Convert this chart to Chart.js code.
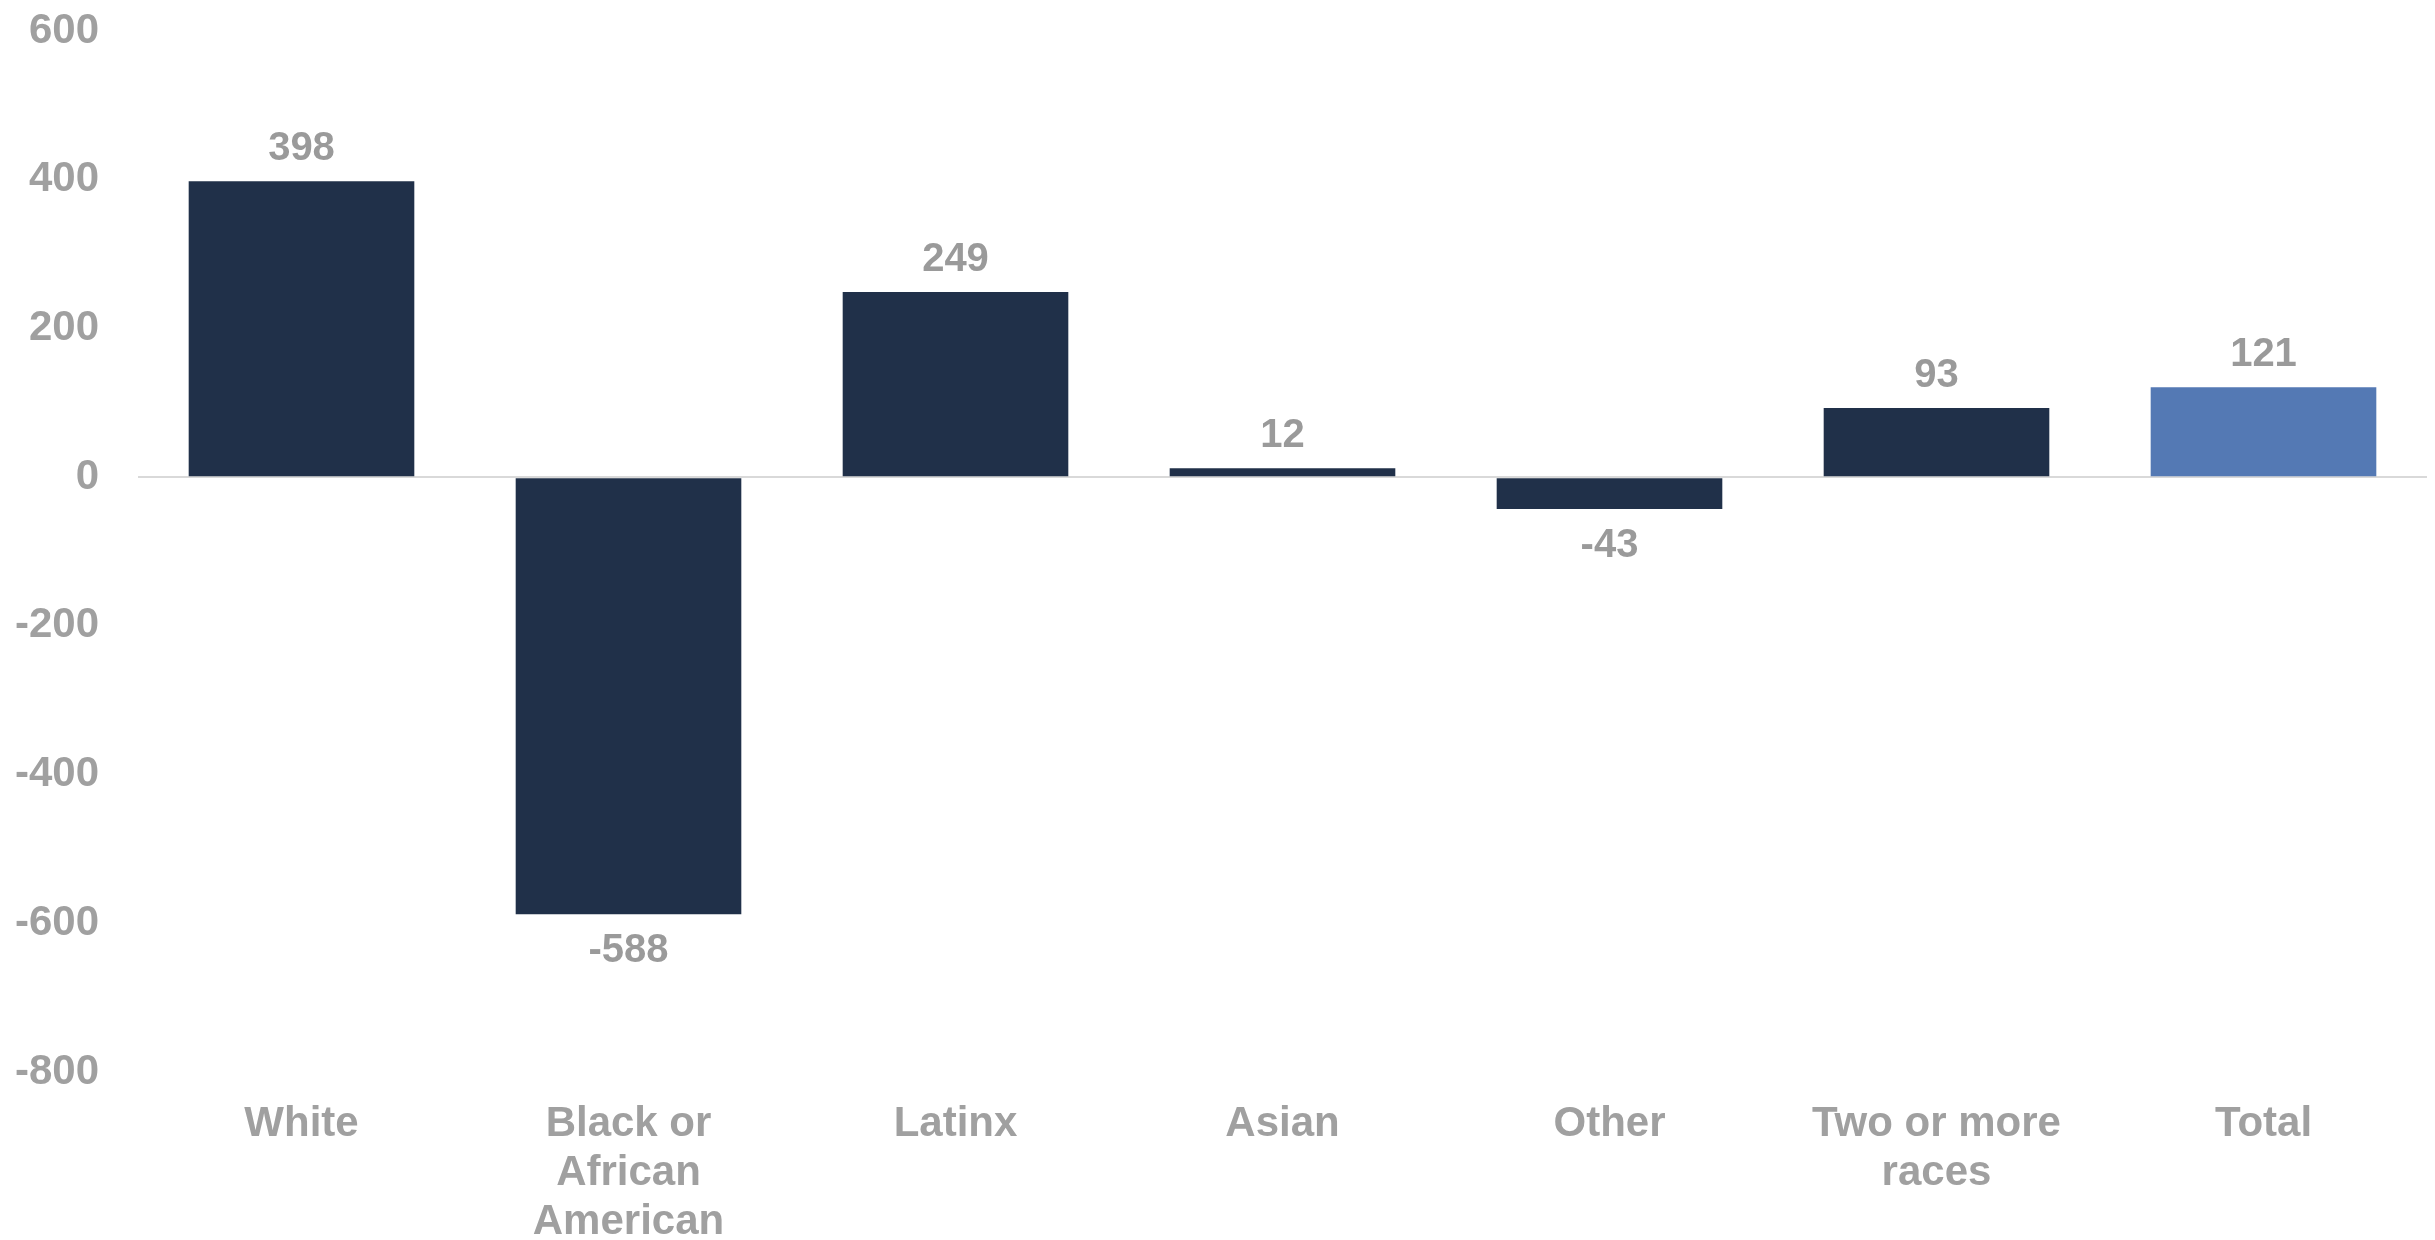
<!DOCTYPE html>
<html>
<head>
<meta charset="utf-8">
<script src="https://cdn.jsdelivr.net/npm/chart.js@4/dist/chart.umd.min.js"></script>
<style>
  html, body { margin: 0; padding: 0; background: #fff; overflow: hidden; }
  #wrap { width: 2435px; height: 1240px; position: relative; }
</style>
</head>
<body>
<div id="wrap"><canvas id="myChart"></canvas></div>
<script>
// chart data
var categories = ['White', ['Black or', 'African', 'American'], 'Latinx', 'Asian', 'Other', ['Two or more', 'races'], 'Total'];
var changeValues = [398, -588, 249, 12, -43, 93, 121];
var barColors = ['#203049', '#203049', '#203049', '#203049', '#203049', '#203049', '#5479b4'];
var yTicks = [-800, -600, -400, -200, 0, 200, 400, 600];

// simple value labels above / below each bar
var valueLabels = {
    id: 'valueLabels',
    afterDatasetsDraw: function (chart) {
        var ctx = chart.ctx;
        var meta = chart.getDatasetMeta(0);
        ctx.save();
        ctx.font = 'bold 40px "Liberation Sans", Arial, sans-serif';
        ctx.fillStyle = '#9a9a9a';
        ctx.textAlign = 'center';
        ctx.textBaseline = 'middle';
        meta.data.forEach(function (bar, i) {
            var v = changeValues[i];
            var y = v >= 0 ? bar.y - 32 : bar.y + 37;
            ctx.fillText(String(v), bar.x, y);
        });
        ctx.restore();
    }
};

var ctx = document.getElementById('myChart').getContext('2d');
var myChart = new Chart(ctx, {
    type: 'bar',
    data: {
        labels: categories,
        datasets: [{
            data: changeValues,
            backgroundColor: barColors,
            borderWidth: 0,
            barPercentage: 0.69,
            categoryPercentage: 1
        }]
    },
    options: {
        responsive: true,
        maintainAspectRatio: false,
        animation: false,
        layout: { padding: { left: 15, right: 8, top: 31, bottom: 0 } },
        plugins: {
            legend: { display: false },
            tooltip: { enabled: false }
        },
        scales: {
            x: {
                afterFit: function (axis) {
                    axis.height = 168;
                    axis.paddingLeft = 0;
                    axis.paddingRight = 0;
                },
                grid: { display: false, drawTicks: false },
                border: { display: false },
                ticks: {
                    color: '#a0a0a0',
                    padding: 28,
                    maxRotation: 0,
                    autoSkip: false,
                    font: { family: '"Liberation Sans", Arial, sans-serif', size: 42, weight: 'bold', lineHeight: 1.17 }
                }
            },
            y: {
                min: yTicks[0],
                max: yTicks[yTicks.length - 1],
                afterBuildTicks: function (axis) {
                    axis.ticks = yTicks.map(function (v) { return { value: v }; });
                },
                afterFit: function (axis) {
                    axis.width = 123;
                    axis.paddingTop = 0;
                    axis.paddingBottom = 0;
                },
                grid: {
                    drawTicks: false,
                    lineWidth: 2,
                    color: function (c) { return c.tick && c.tick.value === 0 ? '#d9d9d9' : 'rgba(0,0,0,0)'; }
                },
                border: { display: false },
                ticks: {
                    color: '#a0a0a0',
                    padding: 39,
                    font: { family: '"Liberation Sans", Arial, sans-serif', size: 42, weight: 'bold' }
                }
            }
        }
    },
    plugins: [valueLabels]
});
</script>
</body>
</html>
